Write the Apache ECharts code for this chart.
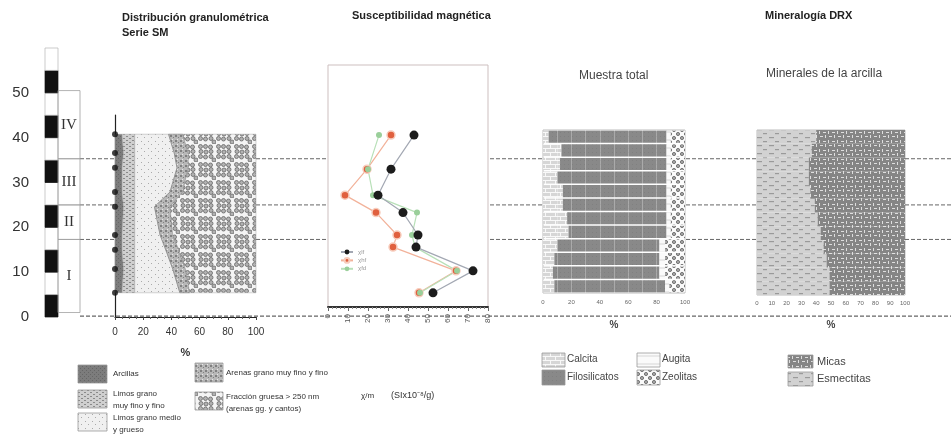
<!DOCTYPE html>
<html><head><meta charset="utf-8">
<script src="https://cdn.jsdelivr.net/npm/echarts@6/dist/echarts.min.js"></script>
<style>html,body{margin:0;padding:0;background:#fff}#c{width:951px;height:437px}</style>
</head><body><div id="c"></div>
<script>
// ================= DATA =================
// depth scale (m)
const depthTicks = [0, 10, 20, 30, 40, 50];
// lithological column blocks (base / top depth, fill)
const stratBase = [0, 5, 10, 15, 20, 25, 30, 35, 40, 45, 50, 55];
const stratTop  = [5, 10, 15, 20, 25, 30, 35, 40, 45, 50, 55, 60];
const stratIsBlack = [1, 0, 1, 0, 1, 0, 1, 0, 1, 0, 1, 0];
// units
const unitNames = ['I', 'II', 'III', 'IV'];
const unitBase  = [1, 17.3, 25, 35.3];
const unitTop   = [17.3, 25, 35.3, 50.5];
// correlation boundaries
const boundaryDepths = [35.3, 25, 17.3];
const baseLineDepth = [0.2];

// grain size distribution, serie SM (%)
const granDepths      = [40.8, 36.6, 33.3, 27.9, 24.6, 18.3, 15.0, 10.7, 5.4];
const granArcillas    = [5, 6, 5, 5, 6, 5, 5, 6, 5];
const granLimosFinos  = [9, 8, 9, 9, 8, 9, 9, 8, 9];
const granLimosMG     = [24, 28, 30, 25, 14, 18, 22, 27, 32];
const granArenas      = [10, 10, 8, 9, 11, 9, 9, 9, 7];
const granGruesa      = [52, 48, 48, 52, 61, 59, 55, 50, 47];
const granTicks = [0, 20, 40, 60, 80, 100];

// magnetic susceptibility
const susDepths = [40.6, 33.0, 27.2, 23.3, 18.3, 15.6, 10.3, 5.4];
const susNames  = ['χlf', 'χhf', 'χfd'];
const susBlack  = [43, 31.5, 25, 37.5, 45, 44, 72.5, 52.5];
const susRed    = [31.5, 19.5, 8.5, 24, 34.5, 32.5, 64, 45.5];
const susGreen  = [25.5, 20, 22.5, 44.5, 42, 43.5, 64.5, 46];

// XRD whole sample (%), top row = highest sample
const mtSamples       = ['SM-12','SM-11','SM-10','SM-9','SM-8','SM-7','SM-6','SM-5','SM-4','SM-3','SM-2','SM-1'];
const mtCalcita       = [4, 13, 12, 10, 14, 14, 17, 18, 10, 8, 7, 8];
const mtFilosilicatos = [83, 74, 75, 77, 73, 73, 70, 69, 72, 74, 75, 78];
const mtAugita        = [3, 3, 3, 3, 3, 3, 3, 3, 4, 4, 4, 3];
const mtZeolitas      = [10, 10, 10, 10, 10, 10, 10, 10, 14, 14, 14, 11];

// XRD clay minerals (%)
const arcEsmectitas = [40, 37, 35, 35, 36, 39, 41, 43, 45, 47, 49, 49];
const arcMicas      = [60, 63, 65, 65, 64, 61, 59, 57, 55, 53, 51, 51];

// ================= STYLE / LAYOUT =================
const FONT = '"Liberation Sans", Arial, sans-serif';
const Y0 = 317, PX = 4.48; // pixel of depth 0, pixels per metre
function yr(top, bottom) { return { min: (Y0 - bottom) / PX, max: (Y0 - top) / PX }; }

function pat(w, h, bg, draw) {
  const c = document.createElement('canvas'); c.width = w; c.height = h;
  const g = c.getContext('2d'); g.fillStyle = bg; g.fillRect(0, 0, w, h);
  if (draw) draw(g);
  return { image: c, repeat: 'repeat' };
}
function circles(g, pts, r, stroke, fill) {
  g.lineWidth = 0.8; g.strokeStyle = stroke; g.fillStyle = fill;
  pts.forEach(p => { g.beginPath(); g.arc(p[0], p[1], r, 0, Math.PI * 2); g.fill(); g.stroke(); });
}
const fArc = pat(4, 4, '#7c7c7c', g => { g.fillStyle = '#666'; g.fillRect(0, 0, 1, 1); g.fillRect(2, 2, 1, 1); });
const fLimF = pat(6, 4, '#cfcfcf', g => { g.fillStyle = '#8a8a8a'; g.fillRect(0, 0, 2, 1); g.fillRect(3, 2, 2, 1); });
const fLimMG = pat(7, 7, '#f0f0f0', g => { g.fillStyle = '#aaaaaa'; g.fillRect(1, 1, 1, 1); g.fillRect(4, 4, 1, 1); });
const fAren = pat(5, 5, '#b8b8b8', g => { g.fillStyle = '#808080'; g.fillRect(0, 0, 2, 2); g.fillRect(3, 2, 1, 1); g.fillStyle = '#e8e8e8'; g.fillRect(2, 4, 1, 1); });
const fGrue = pat(18, 18, '#f4f4f4', g => { circles(g, [[2.5,2.5],[7.5,2.5],[12.5,3],[3,7.5],[8,8],[13,7.5],[2.5,12.5],[7.5,13],[13,12.5],[16,16]], 2.0, '#666', '#b2b2b2'); });
const granFills = [fArc, fLimF, fLimMG, fAren, fGrue];
const granLayers = [granArcillas, granLimosFinos, granLimosMG, granArenas, granGruesa];

const fCalc = pat(10, 8, '#d6d6d6', g => { g.fillStyle = '#f8f8f8'; g.fillRect(0, 0, 10, 1); g.fillRect(0, 4, 10, 1); g.fillRect(0, 0, 1, 4); g.fillRect(5, 4, 1, 4); });
const fFilo = pat(4, 4, '#898989', g => { g.fillStyle = '#808080'; g.fillRect(0, 0, 1, 1); });
const fAug = pat(8, 8, '#fafafa', g => { g.strokeStyle = '#c0c0c0'; g.lineWidth = 0.6; g.beginPath(); g.moveTo(0, 4); g.lineTo(8, 4); g.stroke(); });
const fZeo = pat(8, 8, '#fbfbfb', g => { circles(g, [[2,2],[6,6]], 1.6, '#5e5e5e', '#a8a8a8'); });
const fEsm = pat(12, 8, '#d2d2d2', g => { g.fillStyle = '#9a9a9a'; g.fillRect(1, 1, 5, 1.2); g.fillRect(7, 5, 4, 1.2); });
const fMic = pat(9, 9, '#858585', g => { g.fillStyle = '#dedede'; g.fillRect(1, 1, 3, 1); g.fillRect(6, 0, 1, 3); g.fillRect(0, 5, 1, 3); g.fillRect(4, 6, 3, 1); });

const gaps = [[80, 115], [256, 328], [490, 542], [686, 757], [905, 951]];

function noAxis(extra) {
  return Object.assign({ type: 'value', show: false, splitLine: { show: false } }, extra);
}

// ================= CHART =================
const chart = echarts.init(document.getElementById('c'), null, { renderer: 'canvas' });

const grids = [
  { left: 0, top: 48, width: 951, height: 269 },          // 0 background
  { left: 45, top: 48, width: 13, height: 269 },          // 1 strat column
  { left: 58, top: 48, width: 22, height: 269 },          // 2 units
  { left: 115, top: 115, width: 141, height: 202 },       // 3 granulometry
  { left: 328, top: 65, width: 160, height: 242, show: true, borderColor: '#cdbfbf', borderWidth: 1 }, // 4 susceptibility
  { left: 543, top: 130, width: 142, height: 163, show: true, borderColor: '#bdbdbd', borderWidth: 1 }, // 5 whole sample
  { left: 757, top: 130, width: 148, height: 165, show: true, borderColor: '#bdbdbd', borderWidth: 1 }  // 6 clays
];

const xAxes = [
  noAxis({ gridIndex: 0, min: 0, max: 951 }),
  noAxis({ gridIndex: 1, min: 0, max: 1 }),
  noAxis({ gridIndex: 2, min: 0, max: 1 }),
  { gridIndex: 3, type: 'value', min: 0, max: 100, interval: 20,
    axisLine: { lineStyle: { color: '#222', width: 1.2 } },
    axisTick: { show: true, length: 3, lineStyle: { color: '#444' } },
    minorTick: { show: true, splitNumber: 4, length: 2, lineStyle: { color: '#666' } },
    axisLabel: { fontSize: 10, color: '#333', margin: 10, fontFamily: FONT },
    splitLine: { show: false },
    name: '%', nameLocation: 'middle', nameGap: 30,
    nameTextStyle: { fontSize: 11, fontWeight: 'bold', color: '#333', fontFamily: FONT } },
  { gridIndex: 4, type: 'value', min: 0, max: 80, interval: 10,
    axisLine: { lineStyle: { color: '#333', width: 2 } },
    axisTick: { show: true, length: 4, lineStyle: { color: '#666' } },
    minorTick: { show: true, splitNumber: 5, length: 2, lineStyle: { color: '#888' } },
    axisLabel: { rotate: 90, fontSize: 8, color: '#555', margin: 7, fontFamily: FONT },
    splitLine: { show: false } },
  { gridIndex: 5, type: 'value', min: 0, max: 100, interval: 20,
    axisLine: { show: false }, axisTick: { show: false },
    axisLabel: { fontSize: 6, color: '#666', margin: 6, fontFamily: FONT },
    splitLine: { show: false },
    name: '%', nameLocation: 'middle', nameGap: 27,
    nameTextStyle: { fontSize: 10, fontWeight: 'bold', color: '#444', fontFamily: FONT } },
  { gridIndex: 6, type: 'value', min: 0, max: 100, interval: 10,
    axisLine: { show: false }, axisTick: { show: false },
    axisLabel: { fontSize: 6, color: '#666', margin: 5, fontFamily: FONT },
    splitLine: { show: false },
    name: '%', nameLocation: 'middle', nameGap: 25,
    nameTextStyle: { fontSize: 10, fontWeight: 'bold', color: '#444', fontFamily: FONT } }
];

const yAxes = [
  noAxis({ gridIndex: 0, min: 0, max: 60 }),
  { gridIndex: 1, type: 'value', min: 0, max: 60, interval: 10,
    axisLine: { show: false }, axisTick: { show: false }, splitLine: { show: false },
    axisLabel: { fontSize: 15, color: '#333', margin: 16, showMaxLabel: false, fontFamily: FONT,
      formatter: v => depthTicks.indexOf(v) >= 0 ? String(v) : '' } },
  noAxis({ gridIndex: 2, min: 0, max: 60 }),
  Object.assign({ gridIndex: 3, type: 'value', axisLine: { show: true, lineStyle: { color: '#222', width: 1.2 } },
    axisTick: { show: false }, axisLabel: { show: false }, splitLine: { show: false } }, yr(115, 317)),
  noAxis(Object.assign({ gridIndex: 4 }, yr(65, 307))),
  { gridIndex: 5, type: 'category', data: mtSamples, inverse: true, show: false },
  { gridIndex: 6, type: 'category', data: mtSamples, inverse: true, show: false }
];

function bandRect(fillFn, strokeFn) {
  return function (params, api) {
    const cs = params.coordSys;
    const yTop = api.coord([0, api.value(1)])[1];
    const yBot = api.coord([0, api.value(0)])[1];
    return { type: 'rect', shape: { x: cs.x, y: yTop, width: cs.width, height: yBot - yTop },
      style: { fill: fillFn(params.dataIndex), stroke: strokeFn(params.dataIndex), lineWidth: 0.7 } };
  };
}

const series = [
  // correlation dashed lines in gaps between panels
  { type: 'custom', xAxisIndex: 0, yAxisIndex: 0, silent: true, z: 1,
    data: boundaryDepths.map(d => [d]),
    renderItem: (params, api) => {
      const d = api.value(0);
      return { type: 'group', children: gaps.map(g => {
        const a = api.coord([g[0], d]), b = api.coord([g[1], d]);
        return { type: 'line', shape: { x1: a[0], y1: a[1], x2: b[0], y2: b[1] },
          style: { stroke: '#666', lineWidth: 1, lineDash: [4, 2] } };
      }) };
    } },
  { type: 'custom', xAxisIndex: 0, yAxisIndex: 0, silent: true, z: 1,
    data: baseLineDepth.map(d => [d]),
    renderItem: (params, api) => {
      const a = api.coord([80, api.value(0)]), b = api.coord([951, api.value(0)]);
      return { type: 'line', shape: { x1: a[0], y1: a[1], x2: b[0], y2: b[1] },
        style: { stroke: '#666', lineWidth: 1.2, lineDash: [4, 2] } };
    } },
  // lithological column
  { type: 'custom', xAxisIndex: 1, yAxisIndex: 1, silent: true,
    data: stratBase.map((b, i) => [b, stratTop[i]]),
    renderItem: bandRect(i => stratIsBlack[i] ? '#111' : '#fff', i => stratIsBlack[i] ? '#111' : '#b5b5b5') },
  // units
  { type: 'custom', xAxisIndex: 2, yAxisIndex: 2, silent: true,
    data: unitBase.map((b, i) => [b, unitTop[i]]),
    renderItem: (params, api) => {
      const cs = params.coordSys;
      const yTop = api.coord([0, api.value(1)])[1];
      const yBot = api.coord([0, api.value(0)])[1];
      return { type: 'group', children: [
        { type: 'rect', shape: { x: cs.x, y: yTop, width: cs.width, height: yBot - yTop },
          style: { fill: 'none', stroke: '#a0a0a0', lineWidth: 0.8 } },
        { type: 'text', style: { text: unitNames[params.dataIndex], x: cs.x + cs.width / 2, y: (yTop + yBot) / 2,
          align: 'center', verticalAlign: 'middle', font: '15px "Liberation Serif", serif', fill: '#333' } }
      ] };
    } },
  // grain size stacked areas
  { type: 'custom', xAxisIndex: 3, yAxisIndex: 3, silent: true,
    data: granLayers.map((l, i) => [i]),
    renderItem: (params, api) => {
      const li = params.dataIndex;
      const left = [], right = [];
      for (let k = 0; k < granDepths.length; k++) {
        let c = 0;
        for (let j = 0; j < li; j++) c += granLayers[j][k];
        left.push(api.coord([c, granDepths[k]]));
        right.push(api.coord([c + granLayers[li][k], granDepths[k]]));
      }
      return { type: 'polygon', shape: { points: left.concat(right.reverse()) },
        style: { fill: granFills[li], stroke: li === 3 ? '#8a8a8a' : 'rgba(150,150,150,0.5)', lineWidth: 0.8 } };
    } },
  { type: 'scatter', xAxisIndex: 3, yAxisIndex: 3, silent: true, z: 5,
    data: granDepths.map(d => [0, d]), symbolSize: 6, itemStyle: { color: '#111' } },
  // susceptibility
  { name: susNames[0], type: 'line', xAxisIndex: 4, yAxisIndex: 4, data: susDepths.map((d, i) => [susBlack[i], d]),
    symbol: 'circle', symbolSize: 9, itemStyle: { color: '#1c1c1c' }, lineStyle: { color: '#a3a8b3', width: 1.2 }, z: 4 },
  { name: susNames[1], type: 'line', xAxisIndex: 4, yAxisIndex: 4, data: susDepths.map((d, i) => [susRed[i], d]),
    symbol: 'circle', symbolSize: 8, itemStyle: { color: '#e0603e', borderColor: '#f7cdbd', borderWidth: 1.5 }, lineStyle: { color: '#f2b29a', width: 1.2 }, z: 3 },
  { name: susNames[2], type: 'line', xAxisIndex: 4, yAxisIndex: 4, data: susDepths.map((d, i) => [susGreen[i], d]),
    symbol: 'circle', symbolSize: 6, itemStyle: { color: '#9acf9a' }, lineStyle: { color: '#b8e0b8', width: 1.2 }, z: 3 },
  // whole sample
  { name: 'Calcita', type: 'bar', stack: 'mt', xAxisIndex: 5, yAxisIndex: 5, data: mtCalcita, barCategoryGap: '11%', itemStyle: { color: fCalc } },
  { name: 'Filosilicatos', type: 'bar', stack: 'mt', xAxisIndex: 5, yAxisIndex: 5, data: mtFilosilicatos, itemStyle: { color: fFilo },
    markLine: { silent: true, symbol: 'none', label: { show: false }, lineStyle: { color: 'rgba(255,255,255,0.28)', type: 'solid', width: 1 },
      data: [10, 20, 30, 40, 50, 60, 70, 80].map(v => ({ xAxis: v })) } },
  { name: 'Augita', type: 'bar', stack: 'mt', xAxisIndex: 5, yAxisIndex: 5, data: mtAugita, itemStyle: { color: fAug } },
  { name: 'Zeolitas', type: 'bar', stack: 'mt', xAxisIndex: 5, yAxisIndex: 5, data: mtZeolitas, itemStyle: { color: fZeo } },
  // clay minerals
  { name: 'Esmectitas', type: 'bar', stack: 'arc', xAxisIndex: 6, yAxisIndex: 6, data: arcEsmectitas, barCategoryGap: 0, itemStyle: { color: fEsm } },
  { name: 'Micas', type: 'bar', stack: 'arc', xAxisIndex: 6, yAxisIndex: 6, data: arcMicas, barCategoryGap: 0, itemStyle: { color: fMic } }
];

function txt(left, top, text, font, fill, lh) {
  return { type: 'text', left: left, top: top, silent: true,
    style: { text: text, font: font, fill: fill || '#333', lineHeight: lh } };
}
function sw(x, y, w, h, fill) {
  return { type: 'rect', silent: true, shape: { x: x, y: y, width: w, height: h }, style: { fill: fill, stroke: '#9a9a9a', lineWidth: 0.8 } };
}
const TB = 'bold 11px ' + FONT;
const graphics = [
  txt(122, 10, 'Distribución granulométrica\nSerie SM', TB, '#222', 15),
  txt(352, 10, 'Susceptibilidad magnética', TB, '#222'),
  txt(765, 10, 'Mineralogía DRX', TB, '#222'),
  txt(579, 70, 'Muestra total', '12px ' + FONT, '#444'),
  txt(766, 68, 'Minerales de la arcilla', '12px ' + FONT, '#444'),
  // grain-size legend
  sw(78, 365, 29, 18, fArc), txt(113, 370, 'Arcillas', '8px ' + FONT, '#333'),
  sw(78, 390, 29, 18, fLimF), txt(113, 388, 'Limos grano\nmuy fino y fino', '8px ' + FONT, '#333', 12),
  sw(78, 413, 29, 18, fLimMG), txt(113, 412, 'Limos grano medio\ny grueso', '8px ' + FONT, '#333', 12),
  sw(195, 363, 28, 19, fAren), txt(226, 369, 'Arenas grano muy fino y fino', '8px ' + FONT, '#333'),
  sw(195, 392, 28, 18, fGrue), txt(226, 391, 'Fracción gruesa > 250 nm\n(arenas gg. y cantos)', '8px ' + FONT, '#333', 12),
  txt(361, 392, 'χ/m', '8px ' + FONT, '#333'),
  txt(391, 391, '(SIx10⁻⁸/g)', '9px ' + FONT, '#333'),
  // XRD legends
  sw(542, 353, 23, 14, fCalc), txt(567, 354, 'Calcita', '10px ' + FONT, '#444'),
  sw(542, 370, 23, 15, fFilo), txt(567, 372, 'Filosilicatos', '10px ' + FONT, '#444'),
  sw(637, 353, 23, 14, fAug), txt(662, 354, 'Augita', '10px ' + FONT, '#444'),
  sw(637, 370, 23, 15, fZeo), txt(662, 372, 'Zeolitas', '10px ' + FONT, '#444'),
  sw(788, 355, 25, 13, fMic), txt(817, 356, 'Micas', '11px ' + FONT, '#444'),
  sw(788, 372, 25, 14, fEsm), txt(817, 373, 'Esmectitas', '11px ' + FONT, '#444')
];

chart.setOption({
  animation: false,
  backgroundColor: '#fff',
  textStyle: { fontFamily: FONT },
  grid: grids,
  xAxis: xAxes,
  yAxis: yAxes,
  legend: { data: susNames, left: 335, top: 244, orient: 'vertical', itemWidth: 12, itemHeight: 6, itemGap: 2,
    textStyle: { fontSize: 6, color: '#999' }, selectedMode: false },
  graphic: graphics,
  series: series
});
</script>
</body></html>
